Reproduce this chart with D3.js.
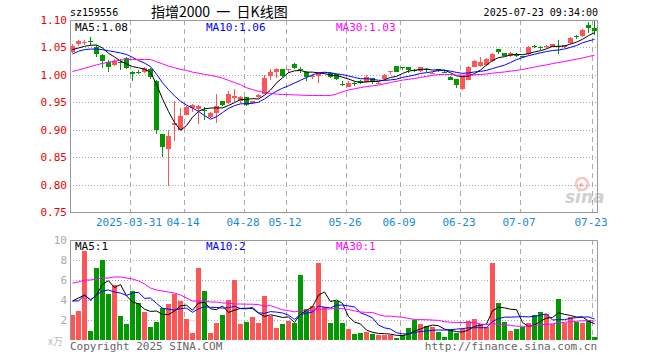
<!DOCTYPE html>
<html>
<head>
<meta charset="utf-8">
<script src="https://d3js.org/d3.v7.min.js"></script>
<style>
  body { margin: 0; background: #fff; }
  text { font-family: "DejaVu Sans Mono", monospace; font-size: 10px; }
</style>
</head>
<body>
<div id="main_div"></div>
<script>
var CHART_WIDTH = 660;
var CHART_HEIGHT = 360;

var PLOT_LEFT = 70;
var PLOT_RIGHT = 597;
var PRICE_TOP = 20;
var PRICE_BOTTOM = 212;
var VOL_TOP = 240;
var VOL_BOTTOM = 340;

var UP_COLOR = "#ff5555";
var DOWN_COLOR = "#009a00";

// trading days in the window
var marDays = [17,18,19,20,21,24,25,26,27,28,31];
var aprDays = [1,2,3,7,8,9,10,11,14,15,16,17,18,21,22,23,24,25,28,29,30];
var mayDays = [6,7,8,9,12,13,14,15,16,19,20,21,22,23,26,27,28,29,30];
var junDays = [3,4,5,6,9,10,11,12,13,16,17,18,19,20,23,24,25,26,27,30];
var julDays = [1,2,3,4,7,8,9,10,11,14,15,16,17,18,21,22,23];

var opens = [1.042,1.056,1.059,1.061,1.050,1.036,1.024,1.018,1.024,1.030,
  1.006,1.005,1.005,1.011,0.988,0.892,0.865,0.908,0.900,0.927,
  0.939,0.938,0.936,0.923,0.931,0.952,0.949,0.957,0.952,0.959,
  0.948,0.959,0.966,0.998,1.005,1.011,1.009,1.020,1.010,1.006,
  0.996,0.998,1.004,1.004,1.001,0.984,0.978,0.986,0.989,0.987,
  0.994,0.985,0.992,1.005,1.016,1.014,1.014,1.009,1.007,1.011,
  1.003,1.010,1.006,0.997,0.992,0.974,0.991,1.015,1.016,1.018,
  1.026,1.047,1.039,1.034,1.038,1.034,1.038,1.052,1.051,1.051,
  1.051,1.052,1.050,1.058,1.070,1.070,1.091,1.086];
var highs = [1.056,1.063,1.064,1.069,1.054,1.038,1.027,1.028,1.029,1.033,
  1.007,1.008,1.015,1.012,0.990,0.893,0.900,0.952,0.939,0.944,
  0.946,0.945,0.942,0.933,0.965,0.953,0.971,0.975,0.962,0.960,
  0.953,0.965,0.999,1.010,1.012,1.011,1.011,1.021,1.014,1.007,
  1.001,1.004,1.006,1.006,1.002,0.988,0.988,0.988,0.990,0.999,
  0.995,0.989,1.001,1.007,1.016,1.014,1.015,1.011,1.015,1.012,
  1.006,1.011,1.008,0.998,0.993,0.998,1.016,1.027,1.033,1.031,
  1.039,1.047,1.040,1.042,1.040,1.035,1.052,1.055,1.053,1.055,
  1.057,1.063,1.055,1.069,1.072,1.083,1.096,1.099];
var lows = [1.040,1.053,1.054,1.052,1.032,1.012,1.005,1.016,1.009,1.010,
  0.988,1.001,1.003,0.993,0.892,0.850,0.797,0.880,0.899,0.926,
  0.932,0.910,0.918,0.922,0.912,0.944,0.947,0.950,0.949,0.944,
  0.946,0.957,0.965,0.990,0.994,0.997,1.003,1.011,1.003,0.988,
  0.992,0.985,1.001,0.994,0.991,0.980,0.977,0.980,0.984,0.986,
  0.983,0.983,0.991,1.002,1.005,1.008,1.004,1.005,1.006,1.005,
  1.001,1.005,1.004,0.990,0.976,0.973,0.990,1.014,1.015,1.017,
  1.023,1.038,1.034,1.033,1.032,1.031,1.037,1.049,1.046,1.049,
  1.050,1.038,1.049,1.057,1.066,1.069,1.077,1.072];
var closes = [1.053,1.062,1.060,1.059,1.038,1.026,1.014,1.026,1.022,1.012,
  1.001,1.004,1.012,0.996,0.900,0.869,0.889,0.912,0.925,0.942,
  0.945,0.944,0.935,0.931,0.944,0.945,0.966,0.961,0.959,0.945,
  0.952,0.963,0.995,1.006,1.011,0.998,1.010,1.012,1.009,0.996,
  0.998,1.003,1.005,0.996,0.992,0.983,0.986,0.985,0.985,0.997,
  0.987,0.986,1.000,1.007,1.006,1.013,1.008,1.008,1.014,1.010,
  1.004,1.009,1.005,0.991,0.982,0.997,1.015,1.026,1.024,1.028,
  1.038,1.041,1.035,1.039,1.035,1.033,1.051,1.051,1.050,1.052,
  1.056,1.051,1.054,1.068,1.069,1.082,1.085,1.080];

// volume, in 万
var volumes = [2.5,2.9,8.9,0.93,7.2,8.0,4.6,5.5,2.4,1.6,
  4.9,3.7,2.8,1.3,1.8,3.2,3.6,4.6,3.9,2.1,
  0.7,7.2,4.9,0.7,1.7,2.5,4.0,6.0,1.6,1.8,
  2.3,1.7,4.4,2.4,1.2,1.6,1.9,1.7,6.5,3.1,
  3.4,7.7,3.3,1.7,3.9,1.7,1.1,0.6,0.73,0.83,
  0.6,0.5,0.5,0.5,0.23,0.5,1.17,2.0,1.6,1.4,
  1.3,0.83,0.33,1.0,0.73,1.07,1.93,2.07,1.6,1.3,
  7.7,3.7,1.8,0.9,1.07,1.3,1.7,2.5,2.83,2.6,
  1.6,4.1,1.7,2.27,1.8,1.7,2.0,0.33];

// moving averages before enough bars exist
var priceMa5Head = [1.046,1.049,1.052,1.054];
var priceMa10Head = [1.038,1.043,1.046,1.047,1.047,1.046,1.044,1.042,1.040];
var priceMa30Head = [1.006,1.009,1.012,1.015,1.018,1.021,1.023,1.025,1.027,1.028,
  1.028,1.028,1.028,1.028,1.024,1.020,1.016,1.013,1.010,1.008,
  1.005,1.003,1.001,0.999,0.997,0.994,0.990,0.986,0.982];
var volMa5Head = [3.9,4.2,4.5,4.0];
var volMa10Head = [3.9,3.9,4.5,4.0,4.5,4.9,5.0,4.8,4.7];
var volMa30Head = [5.7,5.8,6.0,6.0,6.1,6.2,6.2,6.3,6.3,6.2,
  6.1,5.9,5.6,5.2,5.0,4.9,4.8,4.7,4.5,4.2,
  3.9,3.9,3.9,3.8,3.8,3.7,3.7,3.6,3.6];

var priceTicks = [0.75,0.80,0.85,0.90,0.95,1.00,1.05,1.10];
var volTicks = [2,4,6,8,10];
var tickDates = ["2025-03-31","2025-04-14","2025-04-28","2025-05-12","2025-05-26","2025-06-09","2025-06-23","2025-07-07","2025-07-23"];
var tickLabels = ["2025-03-31","04-14","04-28","05-12","05-26","06-09","06-23","07-07","07-23"];

var priceMaLabels = ["MA5:1.08","MA10:1.06","MA30:1.03"];
var volMaLabels = ["MA5:1","MA10:2","MA30:1"];
var MA_COLORS = ["#000000","#0000ff","#ff00ff"];


function buildDates() {
  var dates = [];
  [[3, marDays],[4, aprDays],[5, mayDays],[6, junDays],[7, julDays]].forEach(function(m) {
    m[1].forEach(function(d) {
      dates.push("2025-0" + m[0] + "-" + (d < 10 ? "0" + d : d));
    });
  });
  return dates;
}


function movingAvg(values, n, head) {
  return values.map(function(v, i) {
    if (i < n - 1) return head[i];
    return d3.mean(values.slice(i - n + 1, i + 1));
  });
}


function drawGridFrame(svg, x, y, ticks, top, bottom) {
  // horizontal dotted grid
  svg.append("g").selectAll("line")
      .data(ticks.filter(function(t) { return y(t) > top + 1 && y(t) < bottom - 1; }))
      .enter().append("line")
        .attr("x1", PLOT_LEFT).attr("x2", PLOT_RIGHT)
        .attr("y1", function(d) { return Math.round(y(d)) + 0.5; })
        .attr("y2", function(d) { return Math.round(y(d)) + 0.5; })
        .style("stroke", "#aaa")
        .style("stroke-dasharray", "1,2");

  // vertical dashed grid
  svg.append("g").selectAll("line")
      .data(tickDates)
      .enter().append("line")
        .attr("x1", function(d) { return Math.round(x(d)) + 0.5; })
        .attr("x2", function(d) { return Math.round(x(d)) + 0.5; })
        .attr("y1", top).attr("y2", bottom)
        .style("stroke", "#aaa")
        .style("stroke-dasharray", "5,4");
}


function drawMaLines(svg, x, y, series) {
  series.forEach(function(s, k) {
    var line = d3.line()
        .x(function(d, i) { return x(x.domain()[i]) + 2.5; })
        .y(function(d) { return y(d); });
    svg.append("path")
        .datum(s)
        .attr("d", line)
        .style("fill", "none")
        .style("stroke", MA_COLORS[k])
        .style("stroke-width", 1);
  });
}


function drawMaLabels(svg, labels, ypos) {
  var xs = [75, 206, 336];
  svg.append("g").selectAll("text")
      .data(labels)
      .enter().append("text")
        .attr("x", function(d, i) { return xs[i]; })
        .attr("y", ypos)
        .style("fill", function(d, i) { return MA_COLORS[i]; })
        .style("font-size", "11px")
        .text(function(d) { return d; });
}


function initialize() {
  var dates = buildDates();

  var svg = d3.select("#main_div").append("svg")
      .attr("width", CHART_WIDTH)
      .attr("height", CHART_HEIGHT);

  var x = d3.scaleBand()
      .domain(dates)
      .range([PLOT_LEFT, PLOT_RIGHT])
      .paddingInner(1 / 6)
      .paddingOuter(0);

  var yPrice = d3.scaleLinear().domain([0.75, 1.10]).range([PRICE_BOTTOM, PRICE_TOP]);
  var yVol = d3.scaleLinear().domain([0, 10]).range([VOL_BOTTOM, VOL_TOP]);

  // ---------------------------- header ----------------------------
  svg.append("text").attr("x", 70).attr("y", 16).text("sz159556");
  svg.append("text")
      .attr("x", 151).attr("y", 17)
      .style("font-family", "'Noto Sans CJK SC'")
      .style("font-size", "14px")
      .style("white-space", "pre")
      .text("指增2000  一  日K线图");
  svg.append("text")
      .attr("x", 598).attr("y", 16)
      .attr("text-anchor", "end")
      .text("2025-07-23 09:34:00");

  // ---------------------------- price panel ----------------------------
  drawGridFrame(svg, x, yPrice, priceTicks, PRICE_TOP, PRICE_BOTTOM);

  // sina watermark
  var mark = svg.append("g").style("opacity", 0.45);
  mark.append("circle").attr("cx", 582).attr("cy", 184).attr("r", 6)
      .style("fill", "none").style("stroke", "#f08080").style("stroke-width", 2.5);
  mark.append("circle").attr("cx", 581).attr("cy", 185).attr("r", 2).style("fill", "#e06060");
  mark.append("text").attr("x", 565).attr("y", 203)
      .style("font-family", "'DejaVu Sans'")
      .style("font-size", "17px").style("font-style", "italic").style("font-weight", "bold")
      .style("fill", "#999").text("sina");

  // candles
  var candles = svg.append("g").selectAll("g")
      .data(dates)
      .enter().append("g");

  candles.append("rect")
      .attr("x", function(d) { return x(d) + 2; })
      .attr("width", 1)
      .attr("y", function(d, i) { return Math.round(yPrice(highs[i])); })
      .attr("height", function(d, i) { return Math.max(1, Math.round(yPrice(lows[i])) - Math.round(yPrice(highs[i]))); })
      .style("fill", function(d, i) { return closes[i] >= opens[i] ? UP_COLOR : DOWN_COLOR; });

  candles.append("rect")
      .attr("x", function(d) { return x(d); })
      .attr("width", x.bandwidth())
      .attr("y", function(d, i) { return Math.round(yPrice(Math.max(opens[i], closes[i]))); })
      .attr("height", function(d, i) {
        return Math.max(1, Math.round(yPrice(Math.min(opens[i], closes[i]))) - Math.round(yPrice(Math.max(opens[i], closes[i]))));
      })
      .style("fill", function(d, i) { return closes[i] >= opens[i] ? UP_COLOR : DOWN_COLOR; });

  drawMaLines(svg, x, yPrice, [
    movingAvg(closes, 5, priceMa5Head),
    movingAvg(closes, 10, priceMa10Head),
    movingAvg(closes, 30, priceMa30Head)
  ]);

  svg.append("rect")
      .attr("x", PLOT_LEFT + 0.5).attr("y", PRICE_TOP + 0.5)
      .attr("width", PLOT_RIGHT - PLOT_LEFT).attr("height", PRICE_BOTTOM - PRICE_TOP)
      .style("fill", "none").style("stroke", "#999");

  drawMaLabels(svg, priceMaLabels, 31);

  // price axis
  var priceAxis = svg.append("g")
      .attr("transform", "translate(67,0)")
      .call(d3.axisLeft(yPrice).tickValues(priceTicks).tickFormat(d3.format(".2f")).tickSize(0).tickPadding(0));
  priceAxis.select(".domain").remove();
  priceAxis.selectAll("text")
      .style("fill", "#ee0000")
      .style("font-family", "'DejaVu Sans Mono'")
      .style("font-size", "11px");

  // date axis
  var dateAxis = svg.append("g")
      .attr("transform", "translate(0," + PRICE_BOTTOM + ")")
      .call(d3.axisBottom(x).tickValues(tickDates)
        .tickFormat(function(d) { return tickLabels[tickDates.indexOf(d)]; })
        .tickSize(0).tickPadding(6));
  dateAxis.select(".domain").remove();
  dateAxis.selectAll(".tick").attr("transform", function(d) { return "translate(" + (x(d) - 1) + ",0)"; });
  dateAxis.selectAll("text")
      .style("fill", "#1a88d8")
      .style("font-family", "'DejaVu Sans Mono'")
      .style("font-size", "11px");

  // ---------------------------- volume panel ----------------------------
  drawGridFrame(svg, x, yVol, volTicks, VOL_TOP, VOL_BOTTOM);

  svg.append("g").selectAll("rect")
      .data(dates)
      .enter().append("rect")
        .attr("x", function(d) { return x(d); })
        .attr("width", x.bandwidth())
        .attr("y", function(d, i) { return Math.round(yVol(volumes[i])); })
        .attr("height", function(d, i) { return VOL_BOTTOM - Math.round(yVol(volumes[i])); })
        .style("fill", function(d, i) { return closes[i] >= opens[i] ? UP_COLOR : DOWN_COLOR; });

  drawMaLines(svg, x, yVol, [
    movingAvg(volumes, 5, volMa5Head),
    movingAvg(volumes, 10, volMa10Head),
    movingAvg(volumes, 30, volMa30Head)
  ]);

  // frame: top, left and right only
  svg.append("path")
      .attr("d", "M" + (PLOT_LEFT + 0.5) + "," + VOL_BOTTOM + "V" + (VOL_TOP + 0.5) + "H" + (PLOT_RIGHT + 0.5) + "V" + VOL_BOTTOM)
      .style("fill", "none").style("stroke", "#999");

  drawMaLabels(svg, volMaLabels, 250);

  var volAxis = svg.append("g")
      .attr("transform", "translate(67,0)")
      .call(d3.axisLeft(yVol).tickValues(volTicks).tickSize(0).tickPadding(0));
  volAxis.select(".domain").remove();
  volAxis.selectAll("text")
      .style("fill", "#aaa")
      .style("font-family", "'DejaVu Sans Mono'")
      .style("font-size", "11px");

  svg.append("text")
      .attr("x", 63).attr("y", 345)
      .attr("text-anchor", "end")
      .style("fill", "#bbb")
      .style("font-family", "'Noto Sans CJK SC'")
      .style("font-size", "10px")
      .text("x万");

  // ---------------------------- footer ----------------------------
  svg.append("text").attr("x", 70).attr("y", 350)
      .style("fill", "#666").style("font-size", "11px")
      .text("Copyright 2025 SINA.COM");
  svg.append("text").attr("x", 597).attr("y", 350)
      .attr("text-anchor", "end")
      .style("fill", "#666").style("font-size", "11px")
      .text("http://finance.sina.com.cn");
}

initialize();
</script>
</body>
</html>
